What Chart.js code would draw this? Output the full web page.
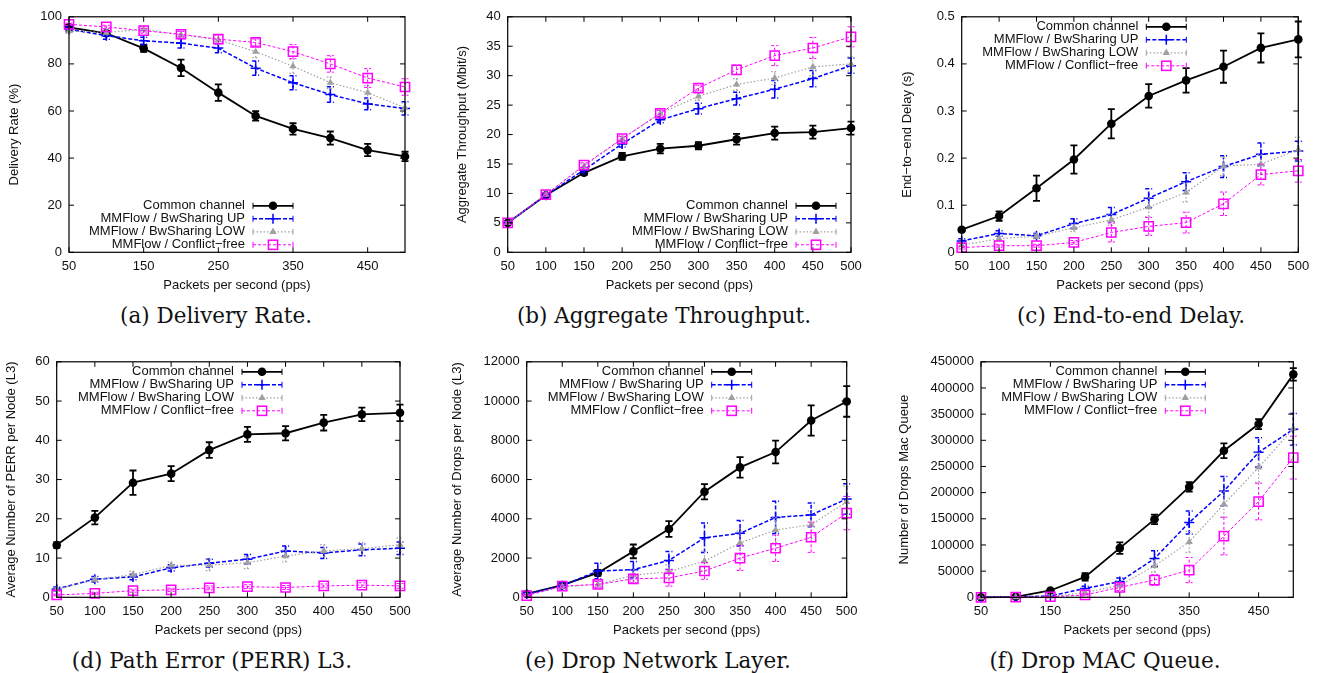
<!DOCTYPE html>
<html><head><meta charset="utf-8">
<script src="https://cdn.jsdelivr.net/npm/chart.js@4"></script>
<style>
html,body{margin:0;padding:0;background:#fff;}
body{width:1325px;height:673px;position:relative;overflow:hidden;}
canvas{position:absolute;}
.cap{position:absolute;width:420px;text-align:center;font-family:"DejaVu Serif","Liberation Serif",serif;font-size:21.5px;line-height:24px;color:#111;white-space:nowrap;}
</style></head><body>
<canvas id="ca"></canvas><canvas id="cb"></canvas><canvas id="cc"></canvas>
<canvas id="cd"></canvas><canvas id="ce"></canvas><canvas id="cf"></canvas>
<div class="cap" style="left:6px;top:304px">(a) Delivery Rate.</div>
<div class="cap" style="left:454px;top:304px">(b) Aggregate Throughput.</div>
<div class="cap" style="left:921px;top:304px">(c) End-to-end Delay.</div>
<div class="cap" style="left:2px;top:649px">(d) Path Error (PERR) L3.</div>
<div class="cap" style="left:448px;top:649px">(e) Drop Network Layer.</div>
<div class="cap" style="left:895px;top:649px">(f) Drop MAC Queue.</div>
<script>
// ---------- data ----------
const pps = [50, 100, 150, 200, 250, 300, 350, 400, 450, 500];
const seriesNames = ['Common channel', 'MMFlow / BwSharing UP', 'MMFlow / BwSharing LOW', 'MMFlow / Conflict\u2212free'];
const xTitle = 'Packets per second (pps)';

// (a) Delivery Rate (%)
const rateCommon = [95.5, 93, 86.6, 78.3, 67.8, 57.9, 52.4, 48.5, 43.4, 40.7];
const rateCommonErr = [1, 1, 1.5, 3.5, 3.5, 2, 2.4, 2.8, 2.6, 2];
const rateUp = [94.7, 92, 89.8, 88.8, 86.7, 78.2, 72, 67, 63, 61.1];
const rateUpErr = [1, 1.5, 1.5, 2, 2, 3, 3, 3.3, 2.5, 2.8];
const rateLow = [94, 93.3, 94.7, 92.3, 90.2, 85.2, 79, 72, 67.8, 61.4];
const rateLowErr = [1, 1, 1, 1.5, 2, 2.5, 3, 2.5, 3, 2];
const rateFree = [96.8, 95.7, 94.1, 92.6, 90.5, 89.1, 85.2, 80, 74, 70.2];
const rateFreeErr = [0.5, 0.7, 1, 1.2, 1.8, 1.5, 3, 3.5, 4, 3.5];

// (b) Aggregate Throughput (Mbit/s)
const thrCommon = [5.0, 9.7, 13.5, 16.3, 17.6, 18.1, 19.2, 20.25, 20.4, 21.1];
const thrCommonErr = [0.2, 0.3, 0.4, 0.6, 0.8, 0.6, 0.9, 1.1, 1.1, 1.1];
const thrUp = [5.0, 9.7, 14.0, 18.4, 22.5, 24.4, 26.1, 27.7, 29.5, 31.7];
const thrUpErr = [0.2, 0.3, 0.4, 0.5, 0.5, 0.9, 1.1, 1.5, 1.4, 1.3];
const thrLow = [5.0, 9.8, 14.6, 19.3, 23.6, 26.5, 28.5, 29.6, 31.5, 32.0];
const thrLowErr = [0.2, 0.3, 0.4, 0.5, 0.6, 0.7, 1.0, 1.1, 1.5, 1.2];
const thrFree = [5.0, 9.8, 14.8, 19.3, 23.6, 27.9, 31.0, 33.4, 34.7, 36.6];
const thrFreeErr = [0.2, 0.3, 0.4, 0.4, 0.5, 0.5, 0.8, 1.7, 1.8, 1.7];

// (c) End-to-end Delay (s)
const delCommon = [0.048, 0.077, 0.136, 0.197, 0.273, 0.332, 0.365, 0.394, 0.434, 0.452];
const delCommonErr = [0.004, 0.01, 0.027, 0.03, 0.031, 0.025, 0.026, 0.034, 0.031, 0.038];
const delUp = [0.024, 0.04, 0.035, 0.061, 0.08, 0.115, 0.15, 0.182, 0.208, 0.215];
const delUpErr = [0.005, 0.006, 0.005, 0.01, 0.015, 0.02, 0.019, 0.023, 0.024, 0.021];
const delLow = [0.015, 0.029, 0.034, 0.052, 0.069, 0.096, 0.127, 0.183, 0.187, 0.218];
const delLowErr = [0.004, 0.005, 0.005, 0.008, 0.012, 0.02, 0.02, 0.02, 0.02, 0.026];
const delFree = [0.01, 0.014, 0.014, 0.021, 0.042, 0.055, 0.063, 0.103, 0.165, 0.173];
const delFreeErr = [0.003, 0.003, 0.003, 0.004, 0.02, 0.019, 0.022, 0.025, 0.022, 0.024];

// (d) PERR per node
const perrCommon = [13.3, 20.3, 29.2, 31.5, 37.5, 41.5, 41.8, 44.5, 46.6, 47];
const perrCommonErr = [0.7, 1.7, 3.1, 1.9, 2, 1.9, 1.8, 2, 1.7, 2.1];
const perrUp = [2.1, 4.6, 5.2, 7.5, 8.7, 9.7, 11.8, 11.3, 12.1, 12.5];
const perrUpErr = [0.5, 0.7, 0.7, 0.8, 1.0, 1.2, 1.3, 1.4, 1.5, 1.6];
const perrLow = [2.0, 4.5, 5.8, 8.1, 8.2, 8.8, 10.5, 11.8, 12.4, 13.4];
const perrLowErr = [0.5, 0.6, 0.8, 0.9, 1.4, 1.5, 1.5, 1.6, 1.6, 1.7];
const perrFree = [0.6, 1.0, 1.7, 1.9, 2.4, 2.7, 2.5, 2.9, 3.1, 2.9];
const perrFreeErr = [0.2, 0.3, 0.4, 0.4, 0.5, 0.5, 0.5, 0.5, 0.6, 0.6];

// (e) Drops per node (L3)
const dropCommon = [170, 620, 1240, 2340, 3480, 5380, 6620, 7400, 9010, 9980];
const dropCommonErr = [60, 100, 150, 350, 400, 390, 520, 580, 770, 780];
const dropUp = [170, 590, 1340, 1410, 1880, 3030, 3260, 4070, 4200, 5010];
const dropUpErr = [80, 150, 400, 420, 460, 750, 650, 820, 600, 780];
const dropLow = [120, 540, 655, 1130, 1300, 1850, 2770, 3430, 3700, 4860];
const dropLowErr = [50, 100, 200, 300, 350, 500, 600, 650, 700, 800];
const dropFree = [85, 570, 655, 940, 990, 1340, 2000, 2500, 3060, 4290];
const dropFreeErr = [50, 100, 150, 200, 420, 420, 630, 670, 770, 850];

// (f) Drops MAC queue
const macCommon = [0, 1000, 13000, 39000, 94000, 149000, 211000, 280000, 331000, 426000];
const macCommonErr = [200, 500, 2000, 7000, 11000, 9000, 9000, 14000, 9500, 12000];
const macUp = [0, 800, 2500, 17000, 30000, 74000, 143000, 203000, 277000, 321000];
const macUpErr = [200, 500, 1500, 4000, 7000, 15000, 22000, 28000, 28000, 30000];
const macLow = [0, 500, 1500, 9000, 23000, 60000, 106000, 178000, 248000, 322000];
const macLowErr = [200, 400, 1000, 3000, 6000, 12000, 20000, 25000, 28000, 30000];
const macFree = [0, 500, 1000, 4500, 19000, 33000, 52000, 117000, 183000, 267000];
const macFreeErr = [200, 400, 800, 2000, 6000, 10000, 24000, 36000, 35000, 41000];

// tick labels
const xTicksOdd = [50, 150, 250, 350, 450];
const xTicksAll = [50, 100, 150, 200, 250, 300, 350, 400, 450, 500];
const yTicksA = [0, 20, 40, 60, 80, 100];
const yTicksB = [0, 5, 10, 15, 20, 25, 30, 35, 40];
const yTicksC = [0, 0.1, 0.2, 0.3, 0.4, 0.5];
const yTicksD = [0, 10, 20, 30, 40, 50, 60];
const yTicksE = [0, 2000, 4000, 6000, 8000, 10000, 12000];
const yTicksF = [0, 50000, 100000, 150000, 200000, 250000, 300000, 350000, 400000, 450000];

// ---------- styles ----------
const styles = [
  {color: '#000000', width: 1.8, dash: [], marker: 'circle', r: 4.3, fill: true},
  {color: '#0000ff', width: 1.5, dash: [4, 2], marker: 'cross', r: 5, fill: false},
  {color: '#a0a0a0', width: 1.2, dash: [1.5, 2], marker: 'triangle', r: 4.2, fill: true},
  {color: '#ff00ff', width: 1, dash: [3, 2], marker: 'rect', r: 6.5, fill: false}
];
const FONT = {family: '"Liberation Sans", Arial, sans-serif', size: 13};
const TXT = '#111';

function drawMarker(ctx, st, x, y) {
  ctx.save();
  ctx.setLineDash([]);
  ctx.strokeStyle = st.color; ctx.fillStyle = st.color;
  const r = st.r;
  ctx.beginPath();
  if (st.marker === 'circle') { ctx.arc(x, y, r, 0, Math.PI * 2); ctx.fill(); }
  else if (st.marker === 'cross') { ctx.lineWidth = 1.5; ctx.moveTo(x - r, y); ctx.lineTo(x + r, y); ctx.moveTo(x, y - r); ctx.lineTo(x, y + r); ctx.stroke(); }
  else if (st.marker === 'triangle') { ctx.moveTo(x, y - r); ctx.lineTo(x - r * 0.866, y + r / 2); ctx.lineTo(x + r * 0.866, y + r / 2); ctx.closePath(); ctx.fill(); }
  else { const s = r * Math.SQRT1_2; ctx.lineWidth = 1.5; ctx.strokeRect(x - s, y - s, 2 * s, 2 * s); }
  ctx.restore();
}

const gnuplotLook = {
  id: 'gnuplotLook',
  beforeDatasetDraw(chart, args) {
    const ds = chart.data.datasets[args.index];
    if (!ds.err) return;
    const ctx = chart.ctx, xs = chart.scales.x, ys = chart.scales.y;
    ctx.save();
    ctx.strokeStyle = ds.borderColor; ctx.lineWidth = Math.max(1, ds.borderWidth);
    ctx.setLineDash(ds.borderDash || []);
    ds.data.forEach((p, i) => {
      const x = xs.getPixelForValue(p.x);
      const y1 = ys.getPixelForValue(p.y - ds.err[i]);
      const y2 = ys.getPixelForValue(p.y + ds.err[i]);
      ctx.beginPath();
      ctx.moveTo(x, y1); ctx.lineTo(x, y2);
      ctx.moveTo(x - 3.5, y1); ctx.lineTo(x + 3.5, y1);
      ctx.moveTo(x - 3.5, y2); ctx.lineTo(x + 3.5, y2);
      ctx.stroke();
    });
    ctx.restore();
  },
  afterDatasetsDraw(chart, args, opts) {
    const ctx = chart.ctx, a = chart.chartArea, xs = chart.scales.x, ys = chart.scales.y;
    ctx.save();
    ctx.setLineDash([]);
    ctx.strokeStyle = '#000'; ctx.lineWidth = 1.2;
    ctx.strokeRect(a.left, a.top, a.right - a.left, a.bottom - a.top);
    ctx.lineWidth = 1;
    ctx.beginPath();
    xs.ticks.forEach(t => {
      const x = xs.getPixelForValue(t.value);
      ctx.moveTo(x, a.bottom); ctx.lineTo(x, a.bottom - 5);
      ctx.moveTo(x, a.top); ctx.lineTo(x, a.top + 5);
    });
    ys.ticks.forEach(t => {
      const y = ys.getPixelForValue(t.value);
      ctx.moveTo(a.left, y); ctx.lineTo(a.left + 5, y);
      ctx.moveTo(a.right, y); ctx.lineTo(a.right - 5, y);
    });
    ctx.stroke();
    // legend (inside plot, gnuplot style)
    ctx.font = FONT.size + 'px ' + FONT.family;
    ctx.textAlign = 'right'; ctx.textBaseline = 'middle';
    chart.data.datasets.forEach((ds, i) => {
      const st = styles[i];
      const y = a.top + opts.top + i * 13;
      const x2 = a.right - opts.right, x1 = x2 - 40;
      ctx.fillStyle = TXT;
      ctx.fillText(ds.label, x1 - 8, y);
      ctx.save();
      ctx.strokeStyle = st.color; ctx.lineWidth = st.width; ctx.setLineDash(st.dash);
      ctx.beginPath();
      ctx.moveTo(x1, y); ctx.lineTo(x2, y);
      ctx.stroke();
      ctx.setLineDash([]); ctx.lineWidth = 1;
      ctx.beginPath();
      ctx.moveTo(x1, y - 3); ctx.lineTo(x1, y + 3);
      ctx.moveTo(x2, y - 3); ctx.lineTo(x2, y + 3);
      ctx.stroke();
      ctx.restore();
      drawMarker(ctx, st, (x1 + x2) / 2, y);
    });
    ctx.restore();
  }
};

function makeDatasets(vals, errs) {
  return vals.map((v, i) => {
    const st = styles[i];
    return {
      label: seriesNames[i],
      data: pps.map((x, k) => ({x: x, y: v[k]})),
      err: errs[i],
      borderColor: st.color, borderWidth: st.width, borderDash: st.dash,
      pointStyle: st.marker, pointRadius: st.r,
      pointBackgroundColor: st.fill ? st.color : 'rgba(0,0,0,0)',
      pointBorderColor: st.color, pointBorderWidth: st.marker === 'circle' || st.marker === 'triangle' ? 0 : 1.5,
      fill: false, tension: 0, clip: false, order: 3 - i
    };
  });
}

function makeChart(id, box, yTitle, yMax, yTicks, xTicks, vals, errs, legendPos) {
  const cLeft = Math.round(box.yTitleX - 7.8);
  const cTop = Math.round(box.T - 12);
  const cRight = Math.ceil(box.R + 22);
  const cBottom = Math.round(box.xTitleY + 7.8);
  const cv = document.getElementById(id);
  cv.width = cRight - cLeft; cv.height = cBottom - cTop;
  cv.style.left = cLeft + 'px'; cv.style.top = cTop + 'px';
  cv.style.width = (cRight - cLeft) + 'px'; cv.style.height = (cBottom - cTop) + 'px';
  const yW = box.L - cLeft, xH = cBottom - box.B;
  new Chart(cv, {
    type: 'line',
    data: {datasets: makeDatasets(vals, errs)},
    options: {
      responsive: false, animation: false,
      layout: {padding: {top: box.T - cTop, right: cRight - box.R, left: 0, bottom: 0}},
      plugins: {legend: {display: false}, tooltip: {enabled: false}, gnuplotLook: legendPos},
      scales: {
        x: {
          type: 'linear', min: 50, max: 500,
          grid: {display: false, drawTicks: false}, border: {display: false},
          afterBuildTicks: s => { s.ticks = xTicks.map(v => ({value: v})); },
          afterFit: s => { s.height = xH; },
          ticks: {padding: 6, color: TXT, font: FONT, maxRotation: 0, autoSkip: false, callback: v => String(v)},
          title: {display: true, text: xTitle, padding: 0, color: TXT, font: FONT}
        },
        y: {
          type: 'linear', min: 0, max: yMax,
          grid: {display: false, drawTicks: false}, border: {display: false},
          afterBuildTicks: s => { s.ticks = yTicks.map(v => ({value: v})); },
          afterFit: s => { s.width = yW; },
          ticks: {padding: 7, color: TXT, font: FONT, autoSkip: false, callback: v => String(v)},
          title: {display: true, text: yTitle, padding: 0, color: TXT, font: FONT}
        }
      }
    },
    plugins: [gnuplotLook]
  });
}

makeChart('ca', {L: 69, T: 14, R: 405, B: 252.3, yTitleX: 15, xTitleY: 285}, 'Delivery Rate (%)', 100, yTicksA, xTicksOdd,
  [rateCommon, rateUp, rateLow, rateFree], [rateCommonErr, rateUpErr, rateLowErr, rateFreeErr], {right: 112, top: 189});
makeChart('cb', {L: 507.7, T: 14, R: 851, B: 252.3, yTitleX: 462.7, xTitleY: 285}, 'Aggregate Throughput (Mbit/s)', 40, yTicksB, xTicksAll,
  [thrCommon, thrUp, thrLow, thrFree], [thrCommonErr, thrUpErr, thrLowErr, thrFreeErr], {right: 15, top: 189});
makeChart('cc', {L: 961.7, T: 14, R: 1298.3, B: 252.3, yTitleX: 908, xTitleY: 285}, 'End\u2212to\u2212end Delay (s)', 0.5, yTicksC, xTicksAll,
  [delCommon, delUp, delLow, delFree], [delCommonErr, delUpErr, delLowErr, delFreeErr], {right: 112, top: 10});
makeChart('cd', {L: 56.7, T: 359.3, R: 400, B: 597.3, yTitleX: 12, xTitleY: 630}, 'Average Number of PERR per Node (L3)', 60, yTicksD, xTicksAll,
  [perrCommon, perrUp, perrLow, perrFree], [perrCommonErr, perrUpErr, perrLowErr, perrFreeErr], {right: 118, top: 10});
makeChart('ce', {L: 526.7, T: 359.3, R: 846.7, B: 597.3, yTitleX: 458, xTitleY: 630}, 'Average Number of Drops per Node (L3)', 12000, yTicksE, xTicksAll,
  [dropCommon, dropUp, dropLow, dropFree], [dropCommonErr, dropUpErr, dropLowErr, dropFreeErr], {right: 95, top: 10});
makeChart('cf', {L: 981, T: 359.3, R: 1293.3, B: 597.3, yTitleX: 905, xTitleY: 630}, 'Number of Drops Mac Queue', 450000, yTicksF, xTicksOdd,
  [macCommon, macUp, macLow, macFree], [macCommonErr, macUpErr, macLowErr, macFreeErr], {right: 88, top: 10});
</script>
</body></html>
